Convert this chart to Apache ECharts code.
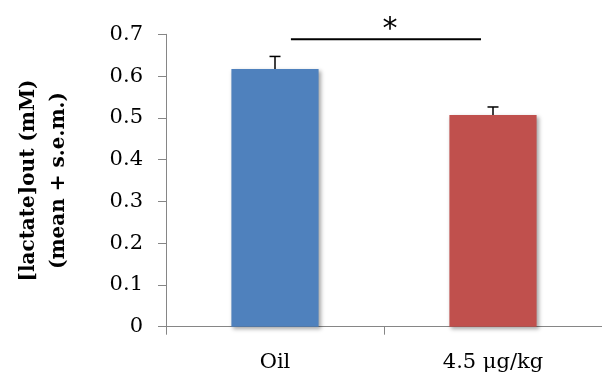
<!DOCTYPE html>
<html><head><meta charset="utf-8">
<script src="https://cdn.jsdelivr.net/npm/echarts@6/dist/echarts.min.js"></script>
<style>html,body{margin:0;padding:0;background:#fff}#c{width:602px;height:377px}</style>
</head><body><div id="c"></div>
<script>
var categories = ['Oil', '4.5 μg/kg'];
var means = [0.617, 0.507];
var sems = [0.030, 0.019];
var barColors = ['#4F81BD', '#C0504D'];
var yTicks = [0, 0.1, 0.2, 0.3, 0.4, 0.5, 0.6, 0.7];
var sigLevel = 0.688;
var sigLabel = '*';

var font = 'DejaVu Serif';
var chart = echarts.init(document.getElementById('c'));
chart.setOption({
  animation: false,
  grid: {left: 166, right: -4, top: 34.3, bottom: 50.3, containLabel: false},
  xAxis: {
    type: 'category', data: categories,
    axisLine: {lineStyle: {color: '#868686', width: 1}},
    axisTick: {show: true, length: 8, lineStyle: {color: '#868686'}},
    axisLabel: {color: '#000', fontFamily: font, fontSize: 21, margin: 25}
  },
  yAxis: {
    type: 'value', min: 0, max: 0.7, interval: 0.1,
    name: '[lactate]out (mM)\n(mean + s.e.m.)',
    nameLocation: 'middle', nameRotate: 90, nameGap: 92,
    nameTextStyle: {color: '#000', fontFamily: font, fontWeight: 'bold', fontSize: 20, lineHeight: 30},
    axisLine: {show: true, lineStyle: {color: '#868686', width: 1}},
    axisTick: {show: true, length: 8, lineStyle: {color: '#868686'}},
    splitLine: {show: false},
    axisLabel: {color: '#000', fontFamily: font, fontSize: 21, margin: 23,
      formatter: function (v) { return yTicks.indexOf(Math.round(v * 10) / 10) >= 0 ? String(Math.round(v * 10) / 10) : ''; }}
  },
  series: [
    {
      type: 'bar', barWidth: '40%',
      data: means.map(function (v, i) { return {value: v, itemStyle: {color: barColors[i]}}; }),
      itemStyle: {shadowBlur: 4, shadowOffsetX: 2, shadowOffsetY: 2, shadowColor: 'rgba(0,0,0,0.35)'}
    },
    {
      type: 'custom',
      data: means.map(function (m, i) { return [i, m, m + sems[i]]; }),
      renderItem: function (params, api) {
        var p0 = api.coord([api.value(0), api.value(1)]);
        var p1 = api.coord([api.value(0), api.value(2)]);
        var hw = 5.5;
        return {type: 'group', children: [
          {type: 'line', shape: {x1: p0[0], y1: p0[1], x2: p1[0], y2: p1[1]}, style: {stroke: '#000', lineWidth: 1.5}},
          {type: 'line', shape: {x1: p1[0] - hw, y1: p1[1], x2: p1[0] + hw, y2: p1[1]}, style: {stroke: '#000', lineWidth: 1.5}}
        ]};
      },
      z: 5
    },
    {
      type: 'custom',
      data: [[0, 1, sigLevel]],
      renderItem: function (params, api) {
        var a = api.coord([api.value(0), api.value(2)]);
        var b = api.coord([api.value(1), api.value(2)]);
        var bw = api.size([1, 0])[0];
        var x1 = a[0] + 0.073 * bw, x2 = b[0] - 0.055 * bw;
        return {type: 'group', children: [
          {type: 'line', shape: {x1: x1, y1: a[1], x2: x2, y2: a[1]}, style: {stroke: '#000', lineWidth: 2}},
          {type: 'text', x: (x1 + x2) / 2 + 4, y: a[1] + 6, style: {text: sigLabel, fill: '#000', font: '30px "DejaVu Sans"', align: 'center', verticalAlign: 'bottom'}}
        ]};
      },
      z: 5
    }
  ]
});
</script></body></html>
